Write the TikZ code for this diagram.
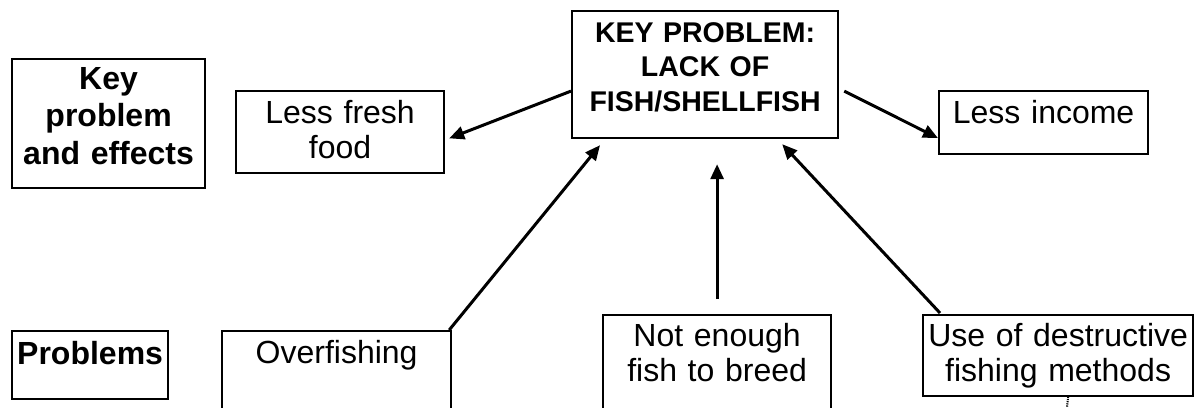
\documentclass[tikz,border=0pt]{standalone}
\usepackage{fontspec}
\setmainfont{Liberation Sans}
\usetikzlibrary{arrows.meta}
\begin{document}
\begin{tikzpicture}[x=1pt,y=1pt,
  box/.style={draw, line width=2.2pt, inner sep=0pt, anchor=north west, align=center},
  reg/.style={font=\fontsize{32}{35.5}\selectfont},
  bld/.style={font=\fontsize{32}{37.5}\selectfont\bfseries},
  kbld/.style={font=\fontsize{28.5}{34.5}\selectfont\bfseries},
  arr/.style={line width=3pt, -{Triangle[length=15pt,width=13pt]}},
]
\useasboundingbox (0,0) rectangle (1198,-407);
\fill[white] (0,0) rectangle (1198,-407);
\clip (0,0) rectangle (1198,-407);
% left labels
\node[box,bld,text width=193pt] (kpe) at (11,-58)
  {\rule{0pt}{30pt}Key\\problem\\and effects\rule[-24pt]{0pt}{0pt}};
\node[box,bld,text width=156pt] (prob) at (11,-330)
  {\rule{0pt}{33pt}Problems\rule[-35pt]{0pt}{0pt}};
% key problem
\node[box,kbld,text width=266pt] (kp) at (571,-10)
  {\rule{0pt}{31pt}KEY PROBLEM:\\LACK OF\\FISH/SHELLFISH\rule[-27pt]{0pt}{0pt}};
% effects
\node[box,reg,text width=208pt] (lff) at (235,-90)
  {\rule{0pt}{32pt}Less fresh\\food\rule[-14pt]{0pt}{0pt}};
\node[box,reg,text width=209pt] (li) at (938,-90)
  {\rule{0pt}{32pt}Less income\rule[-31pt]{0pt}{0pt}};
% problems
\node[box,reg,text width=229pt] (ov) at (221,-330)
  {\rule{0pt}{32pt}Overfishing\rule[-100pt]{0pt}{0pt}};
\node[box,reg,text width=228pt] (ne) at (602,-314)
  {\rule{0pt}{31pt}Not enough\\fish to breed\rule[-80pt]{0pt}{0pt}};
\node[box,reg,text width=270pt] (ud) at (922,-314)
  {\rule{0pt}{31pt}Use of destructive\\fishing methods\rule[-14pt]{0pt}{0pt}};
% connectors
\draw[arr] ([yshift=-16.5pt]kp.west) -- ([xshift=4pt,yshift=-6.5pt]lff.east);
\draw[arr] ([xshift=5pt,yshift=-16.5pt]kp.east) -- ([yshift=-15.5pt]li.west);
\draw[arr] ([xshift=-3pt]ov.north east) -- ([xshift=29pt,yshift=-6pt]kp.south west);
\draw[arr] ([yshift=15pt]ne.north) -- ([xshift=12pt,yshift=-25pt]kp.south);
\draw[arr] ([xshift=18pt,yshift=1pt]ud.north west) -- ([xshift=-57pt,yshift=-5pt]kp.south east);
\coordinate (dotend) at (1067,-407);
\draw[line width=2pt, dash pattern=on 1.2pt off 1pt] ([xshift=10pt]ud.south) -- (dotend);
\end{tikzpicture}
\end{document}
